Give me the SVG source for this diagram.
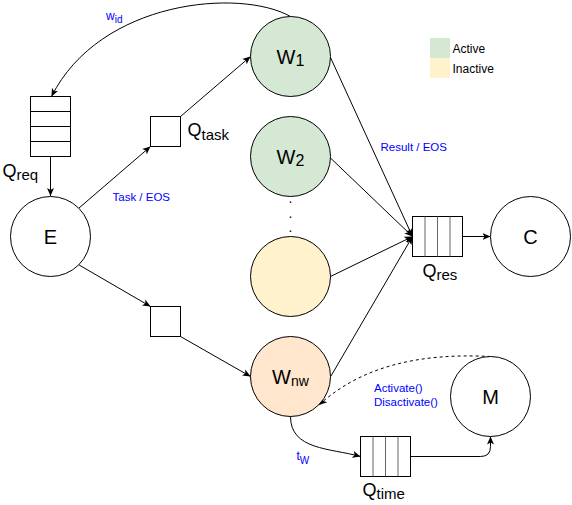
<svg xmlns="http://www.w3.org/2000/svg" width="572" height="505" viewBox="0 0 572 505">
<defs>
<marker id="arr" markerUnits="userSpaceOnUse" markerWidth="10" markerHeight="8" refX="8" refY="4" orient="auto">
<path d="M0,0.5 L8,4 L0,7.5 L2,4 Z" fill="#000"/>
</marker>
<style>
text{font-family:"Liberation Sans",Arial,Helvetica,sans-serif;}
.node{stroke:#000;stroke-width:1;}
.big{font-size:20px;fill:#000;}
.q{font-size:18px;fill:#000;}
.sub{font-size:15px;}
.lbl{font-size:11.5px;fill:#0000ff;}
.leg{font-size:12px;fill:#000;}
.edge{fill:none;stroke:#000;stroke-width:1;marker-end:url(#arr);}
.inner{stroke:#666;stroke-width:1;}
</style>
</defs>
<rect width="572" height="505" fill="#fff"/>

<g id="legend">
<rect x="430" y="38" width="20" height="20" fill="#d5e8d4"/>
<rect x="430" y="58" width="20" height="20" fill="#fff2cc"/>
<text class="leg" x="452.5" y="52.5">Active</text>
<text class="leg" x="452.5" y="72.5">Inactive</text>
</g>

<g id="connectors">
<line class="edge" x1="50.5" y1="156.5" x2="50.5" y2="196"/>
<line class="edge" x1="78.8" y1="208.2" x2="150.5" y2="146.5"/>
<line class="edge" x1="180.5" y1="116.5" x2="250.5" y2="56.5"/>
<line class="edge" x1="78.8" y1="264.8" x2="150.5" y2="306.5"/>
<line class="edge" x1="180.5" y1="336.5" x2="250.5" y2="376.5"/>
<line class="edge" x1="330.5" y1="57.5" x2="412.5" y2="236.5"/>
<line class="edge" x1="330.5" y1="158" x2="412.5" y2="236.5"/>
<line class="edge" x1="330.5" y1="276.5" x2="412.5" y2="236.5"/>
<line class="edge" x1="330.7" y1="376.5" x2="412.5" y2="236.5"/>
<line class="edge" x1="462.5" y1="236.5" x2="490.5" y2="236.5"/>
<path class="edge" d="M290.5,16.5 C240,-12 100,0 51.5,96.5"/>
<path class="edge" d="M290.5,416.5 C290.5,450 330,448 360.5,456.5"/>
<path class="edge" d="M410.5,456.5 L480.5,456.5 Q490.5,456.5 490.5,446.5 L490.5,436.5"/>
<path class="edge" stroke-dasharray="3 3" d="M490.5,356.5 C440,354 370,358 319,405"/>
</g>

<g id="labels">
<text class="lbl" x="106" y="19.5" style="font-size:12px">w<tspan dy="3.5" style="font-size:10px">id</tspan></text>
<text class="lbl" x="112.5" y="200.5">Task / EOS</text>
<text class="lbl" x="380.5" y="150.5">Result / EOS</text>
<text class="lbl" x="374" y="391.5">Activate()</text>
<text class="lbl" x="374" y="405.5">Disactivate()</text>
<text class="lbl" x="296.5" y="460" style="font-size:12px">t<tspan dy="3.5" style="font-size:10px">W</tspan></text>
</g>

<g id="Qreq">
<rect x="30.5" y="96.5" width="40" height="60" fill="#fff" class="node"/>
<line x1="30.5" y1="111.5" x2="70.5" y2="111.5" class="node"/>
<line x1="30.5" y1="126.5" x2="70.5" y2="126.5" class="node"/>
<line x1="30.5" y1="141.5" x2="70.5" y2="141.5" class="node"/>
<text class="q" x="2.5" y="176.5">Q<tspan class="sub" dy="3.5">req</tspan></text>
</g>

<g id="E">
<circle cx="50.5" cy="236.5" r="40" fill="#fff" class="node"/>
<text class="big" x="50.5" y="243.5" text-anchor="middle">E</text>
</g>

<g id="Qtask">
<rect x="150.5" y="116.5" width="30" height="30" fill="#fff" class="node"/>
<text class="q" x="187.5" y="136">Q<tspan class="sub" dy="3.5">task</tspan></text>
</g>

<g id="Q2">
<rect x="150.5" y="306.5" width="30" height="30" fill="#fff" class="node"/>
</g>

<g id="W1">
<circle cx="290.5" cy="56.5" r="40" fill="#d5e8d4" class="node"/>
<text class="big" x="290.5" y="63.5" text-anchor="middle">W<tspan style="font-size:16px" dy="2.5">1</tspan></text>
</g>

<g id="W2">
<circle cx="290.5" cy="156.5" r="40" fill="#d5e8d4" class="node"/>
<text class="big" x="290.5" y="163.5" text-anchor="middle">W<tspan style="font-size:16px" dy="2.5">2</tspan></text>
</g>

<g id="dots">
<text x="290.5" y="203" text-anchor="middle" style="font-size:14px">.</text>
<text x="290.5" y="217.5" text-anchor="middle" style="font-size:14px">.</text>
<text x="290.5" y="232" text-anchor="middle" style="font-size:14px">.</text>
</g>

<g id="Winactive">
<circle cx="290.5" cy="276.5" r="40" fill="#fff2cc" class="node"/>
</g>

<g id="Wnw">
<circle cx="290.5" cy="376.5" r="40" fill="#ffe6cc" class="node"/>
<text class="big" x="290.5" y="383.5" text-anchor="middle">W<tspan style="font-size:14px" dy="2.5">nw</tspan></text>
</g>

<g id="Qres">
<rect x="412.5" y="216.5" width="50" height="40" fill="#fff" class="node"/>
<line x1="425" y1="216.5" x2="425" y2="256.5" class="inner"/>
<line x1="437.5" y1="216.5" x2="437.5" y2="256.5" class="inner"/>
<line x1="450" y1="216.5" x2="450" y2="256.5" class="inner"/>
<text class="q" x="422.5" y="276.5">Q<tspan class="sub" dy="3.5">res</tspan></text>
</g>

<g id="C">
<circle cx="530.5" cy="236.5" r="40" fill="#fff" class="node"/>
<text class="big" x="530.5" y="243.5" text-anchor="middle">C</text>
</g>

<g id="M">
<circle cx="490.5" cy="396.5" r="40" fill="#fff" class="node"/>
<text class="big" x="490.5" y="403.5" text-anchor="middle">M</text>
</g>

<g id="Qtime">
<rect x="360.5" y="436.5" width="50" height="40" fill="#fff" class="node"/>
<line x1="373" y1="436.5" x2="373" y2="476.5" class="inner"/>
<line x1="385.5" y1="436.5" x2="385.5" y2="476.5" class="inner"/>
<line x1="398" y1="436.5" x2="398" y2="476.5" class="inner"/>
<text class="q" x="362.5" y="495.5">Q<tspan class="sub" dy="3.5">time</tspan></text>
</g>
</svg>
